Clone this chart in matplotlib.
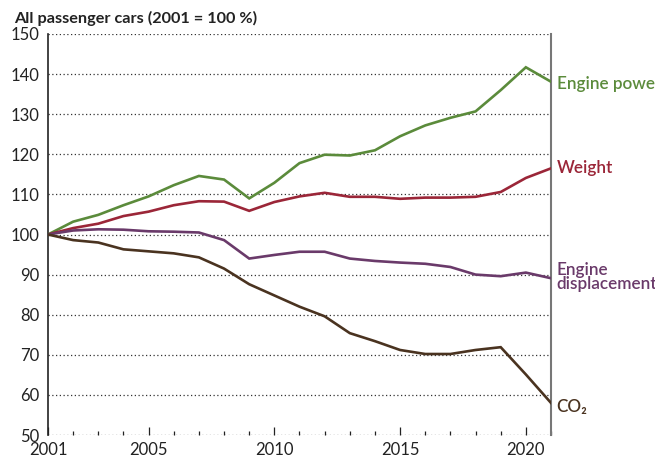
import matplotlib
matplotlib.use("Agg")
import matplotlib.pyplot as plt
from matplotlib.ticker import MultipleLocator

years = list(range(2001, 2022))

engine_power = [100, 103.2, 104.9, 107.3, 109.5, 112.3, 114.6, 113.7, 109.0, 112.9,
                117.8, 119.9, 119.7, 121.0, 124.5, 127.2, 129.1, 130.7, 136.0, 141.7, 138.1]
weight = [100, 101.6, 102.7, 104.6, 105.7, 107.3, 108.3, 108.2, 105.9, 108.1,
          109.5, 110.4, 109.4, 109.4, 108.9, 109.2, 109.2, 109.4, 110.6, 114.1, 116.5]
displacement = [100, 101.0, 101.3, 101.2, 100.8, 100.7, 100.5, 98.6, 94.0, 94.9,
                95.7, 95.7, 94.0, 93.4, 93.0, 92.7, 91.9, 90.0, 89.6, 90.5, 89.1]
co2 = [100, 98.6, 98.0, 96.3, 95.8, 95.3, 94.3, 91.5, 87.6, 84.8,
       82.0, 79.6, 75.4, 73.4, 71.2, 70.2, 70.2, 71.2, 71.9, 65.1, 58.0]

series_labels = ["Engine power", "Weight", "Engine\ndisplacement", "CO\u2082"]
label_y = [137.5, 116.6, 89.4, 57.1]
colors = ["#5b8b3b", "#9b2638", "#6a3a6a", "#4a3320"]

x_ticks = [2001, 2005, 2010, 2015, 2020]
y_ticks = list(range(50, 151, 10))

plt.rcParams['font.family'] = ['Lato', 'DejaVu Sans']

fig = plt.figure(figsize=(6.55, 4.57), dpi=100)
ax = fig.add_axes([48 / 655, 22 / 457, 503 / 655, 401 / 457])

for vals, c in zip([engine_power, weight, displacement, co2], colors):
    ax.plot(years, vals, color=c, linewidth=1.9, solid_joinstyle='miter', zorder=3)

for text, y, c in zip(series_labels, label_y, colors):
    ax.text(2021.22, y, text, color=c, fontsize=12.3, fontweight='semibold',
            va='center', ha='left', linespacing=0.82, clip_on=False)

ax.set_xlim(2001, 2021)
ax.set_ylim(50, 150)
ax.set_yticks(y_ticks)
ax.set_xticks(x_ticks)
ax.xaxis.set_minor_locator(MultipleLocator(1))

ax.yaxis.grid(True, linestyle=(0, (1, 2)), color='#333333', linewidth=0.9)
ax.set_axisbelow(True)

ax.spines['top'].set_visible(False)
ax.spines['bottom'].set_visible(False)
ax.spines['left'].set_color('#222222')
ax.spines['left'].set_linewidth(1.2)
ax.spines['right'].set_color('#777777')
ax.spines['right'].set_linewidth(1.5)

ax.tick_params(axis='y', length=0, labelsize=12, colors='#222222', pad=6)
ax.tick_params(axis='x', which='major', direction='in', length=6, width=0.9,
               labelsize=12, colors='#222222', pad=5)
ax.tick_params(axis='x', which='minor', direction='in', length=3, width=0.9, colors='#222222')

fig.text(14 / 655, 1 - 18 / 457, "All passenger cars (2001 = 100 %)", fontsize=11.7,
         fontweight='bold', color='#222222', va='center', ha='left')

fig.savefig("out.png", dpi=100)
